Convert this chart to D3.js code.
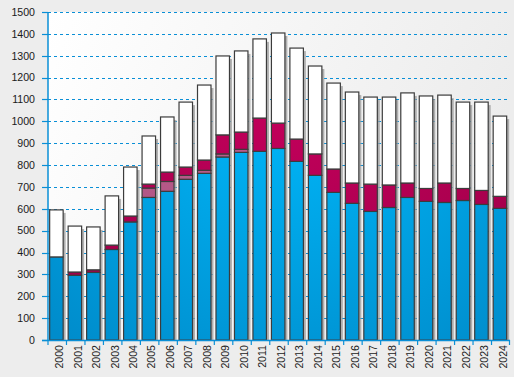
<!DOCTYPE html>
<html><head><meta charset="utf-8">
<script src="https://cdn.jsdelivr.net/npm/d3@7"></script>
<style>html,body{margin:0;padding:0;background:#ededed;}svg{display:block;}</style>
</head><body>
<svg id="c" width="514" height="377"></svg>
<script>
const years = ["2000","2001","2002","2003","2004","2005","2006","2007","2008","2009","2010","2011","2012","2013","2014","2015","2016","2017","2018","2019","2020","2021","2022","2023","2024"];
const blueVals    = [380,296,309,414,540,652,680,735,762,837,858,863,876,817,753,675,625,588,606,652,634,629,638,620,602];
const mauveVals   = [0,0,0,0,0,43,45,18,14,14,14,0,0,0,0,0,0,0,0,0,0,0,0,0,0];
const crimsonVals = [0,15,12,20,27,18,43,38,47,87,79,152,116,102,98,107,93,125,103,66,59,89,55,64,55];
const whiteVals   = [215,210,196,225,224,220,252,297,343,361,371,362,412,416,402,393,416,398,402,412,423,402,395,404,367];
const yTicks = [0,100,200,300,400,500,600,700,800,900,1000,1100,1200,1300,1400,1500];

const svg = d3.select("#c");
const L = 48, R = 510, T = 12, B = 340;
const defs = svg.append("defs");
const pg = defs.append("linearGradient").attr("id","pg").attr("x1","0").attr("y1","0").attr("x2","1").attr("y2","0.3");
pg.append("stop").attr("offset","0").attr("stop-color","#ffffff");
pg.append("stop").attr("offset","1").attr("stop-color","#ececec");
function radial(id, c0, c1){
  const g = defs.append("radialGradient").attr("id",id).attr("gradientUnits","userSpaceOnUse")
    .attr("cx",290).attr("cy",60).attr("r",360);
  g.append("stop").attr("offset","0").attr("stop-color",c0);
  g.append("stop").attr("offset","1").attr("stop-color",c1);
}
radial("gBlue","#00bcff","#008ccb");
radial("gCrim","#c8005e","#9a0046");
radial("gMauve","#c0608e","#a85080");

svg.append("rect").attr("x",L).attr("y",T).attr("width",R-L).attr("height",B-T).attr("fill","url(#pg)");

const x = d3.scaleBand().domain(years).range([L,R]).padding(0);
const y = d3.scaleLinear().domain([0,1500]).range([B,T]);

// grid
svg.append("g").selectAll("line").data(yTicks.filter(d=>d>0)).join("line")
  .attr("x1",L).attr("x2",R).attr("y1",d=>Math.round(y(d))+0.5).attr("y2",d=>Math.round(y(d))+0.5)
  .attr("stroke","#0a8fd6").attr("stroke-width",1).attr("stroke-dasharray","3,3");

const keys = ["blue","mauve","crimson","white"];
const rows = years.map((yr,i)=>({year:yr, blue:blueVals[i], mauve:mauveVals[i], crimson:crimsonVals[i], white:whiteVals[i]}));
const stack = d3.stack().keys(keys)(rows);
const fills = {blue:"url(#gBlue)", mauve:"url(#gMauve)", crimson:"url(#gCrim)", white:"#ffffff"};
const bx = d => x(d) + x.bandwidth()*0.09;
const bw = x.bandwidth()*0.73;

// shadows
svg.append("g").selectAll("rect").data(rows).join("rect")
  .attr("x",d=>bx(d.year)+2.5).attr("y",d=>y(d.blue+d.mauve+d.crimson+d.white)+3)
  .attr("width",bw).attr("height",d=>B-(y(d.blue+d.mauve+d.crimson+d.white)+3))
  .attr("fill","#9a9a9a").attr("opacity",0.75);

stack.forEach(s=>{
  svg.append("g").selectAll("rect").data(s.filter(d=>d[1]-d[0]>0)).join("rect")
    .attr("x",d=>bx(d.data.year)).attr("y",d=>y(d[1]))
    .attr("width",bw).attr("height",d=>y(d[0])-y(d[1]))
    .attr("fill",fills[s.key]).attr("stroke","#3c3c3c").attr("stroke-width",1.2);
});

// y axis
svg.append("line").attr("x1",L).attr("x2",L).attr("y1",T).attr("y2",B).attr("stroke","#0a8fd6").attr("stroke-width",1.5);
svg.append("g").selectAll("line").data(yTicks).join("line")
  .attr("x1",L-6).attr("x2",L).attr("y1",d=>Math.round(y(d))+0.5).attr("y2",d=>Math.round(y(d))+0.5)
  .attr("stroke","#0a8fd6").attr("stroke-width",1.2);
svg.append("g").selectAll("text").data(yTicks).join("text")
  .attr("x",35).attr("y",d=>y(d)).attr("dy","0.36em").attr("text-anchor","end")
  .attr("font-family","Liberation Sans, Arial, sans-serif").attr("font-size","10.6px").attr("fill","#1a1a1a")
  .text(d=>d);

// x axis
svg.append("line").attr("x1",L-6).attr("x2",R).attr("y1",B+0.5).attr("y2",B+0.5).attr("stroke","#0a8fd6").attr("stroke-width",1.5);
svg.append("g").selectAll("line").data(years.concat(["end"])).join("line")
  .attr("x1",d=>d==="end"?R-0.5:x(d)).attr("x2",d=>d==="end"?R-0.5:x(d))
  .attr("y1",B).attr("y2",B+5).attr("stroke","#0a8fd6").attr("stroke-width",1.2);
svg.append("g").selectAll("text").data(years).join("text")
  .attr("transform",d=>`translate(${x(d)+x.bandwidth()/2+2},${B+5}) rotate(-90)`)
  .attr("dy","0.36em").attr("text-anchor","end")
  .attr("font-family","Liberation Sans, Arial, sans-serif").attr("font-size","10.6px").attr("fill","#1a1a1a")
  .text(d=>d);
</script>
</body></html>
